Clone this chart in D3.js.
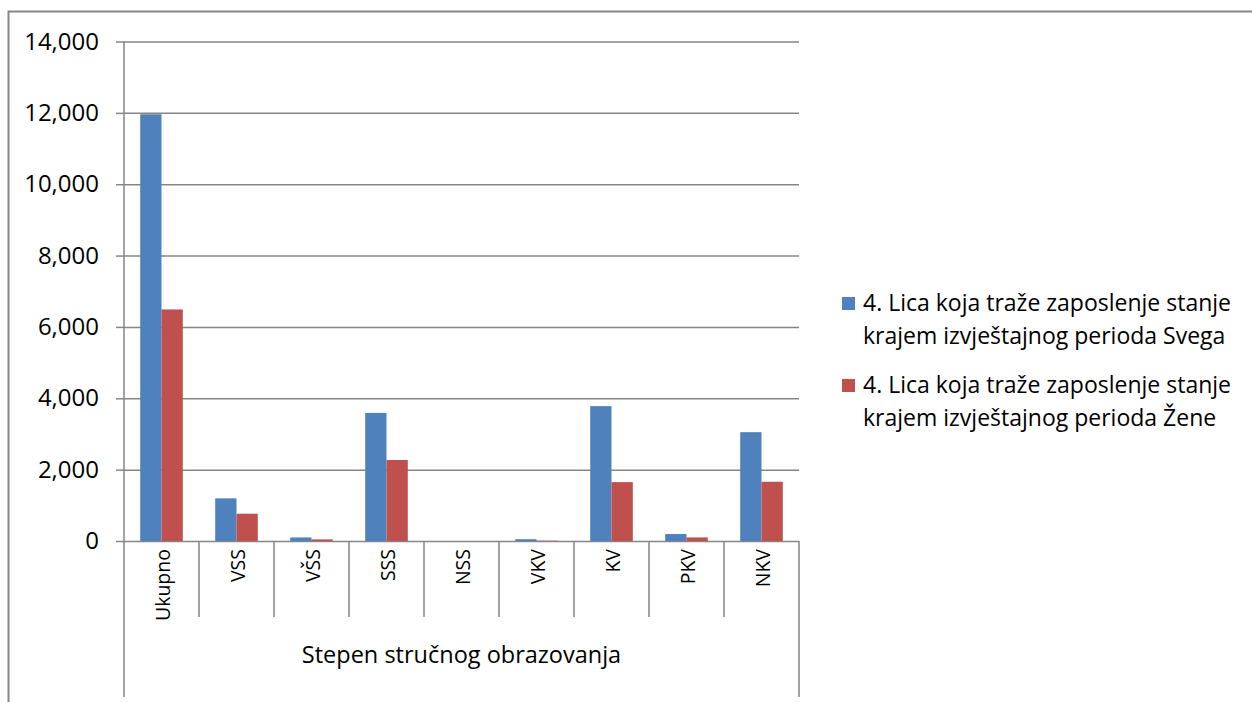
<!DOCTYPE html>
<html>
<head>
<meta charset="utf-8">
<script src="https://cdn.jsdelivr.net/npm/d3@7"></script>
<style>
  html, body { margin: 0; padding: 0; background: #fff; }
  svg { display: block; }
  text { font-family: "Open Sans", "Noto Sans", sans-serif; fill: #000; }
</style>
</head>
<body>
<svg id="chart" width="1252" height="702"></svg>
<script>
// ---- data ----
const categories = ["Ukupno", "VSS", "VŠS", "SSS", "NSS", "VKV", "KV", "PKV", "NKV"];
const svegaValues = [11960, 1195, 100, 3590, 0, 50, 3780, 195, 3050];
const zeneValues  = [6490, 765, 45, 2270, 0, 10, 1650, 100, 1660];
const seriesNames = [
  ["4. Lica koja traže zaposlenje stanje", "krajem izvještajnog perioda Svega"],
  ["4. Lica koja traže zaposlenje stanje", "krajem izvještajnog perioda Žene"]
];
const yTicks = [0, 2000, 4000, 6000, 8000, 10000, 12000, 14000];
const groupLabel = "Stepen stručnog obrazovanja";
const colors = ["#4F81BD", "#C0504D"];

// ---- layout ----
const svg = d3.select("#chart");
const plot = { left: 124, right: 799, top: 41.5, bottom: 541 };
const gridColor = "#868686";

// outer border (extends beyond the viewport on right/bottom)
svg.append("rect")
  .attr("x", 8.5).attr("y", 11.5)
  .attr("width", 1400).attr("height", 900)
  .attr("fill", "none").attr("stroke", gridColor).attr("stroke-width", 2);

const x = d3.scaleBand().domain(categories).range([plot.left, plot.right]).paddingInner(0).paddingOuter(0);
const barW = x.bandwidth() * 0.284;
const xs = d3.scaleBand().domain([0, 1]).range([0, barW * 2]);
const y = d3.scaleLinear().domain([0, 14000]).range([plot.bottom, plot.top]);

// gridlines + y ticks
const yAxis = d3.axisLeft(y).tickValues(yTicks).tickSize(8).tickFormat(d3.format(","));
const gy = svg.append("g").attr("transform", `translate(${plot.left},0)`).call(yAxis);
gy.select(".domain").remove();
gy.selectAll(".tick line").attr("stroke", gridColor).attr("stroke-width", 1.5);
gy.selectAll(".tick text").attr("x", -25).attr("font-size", 24).attr("font-family", "Open Sans");
gy.selectAll(".tick").append("line")
  .attr("x1", 0).attr("x2", plot.right - plot.left)
  .attr("stroke", gridColor).attr("stroke-width", 1.5);

// bars
const seriesData = [svegaValues, zeneValues];
seriesData.forEach((vals, si) => {
  svg.append("g").selectAll("rect")
    .data(categories.map((c, i) => ({ c, v: vals[i] })))
    .join("rect")
    .attr("x", d => x(d.c) + (x.bandwidth() - barW * 2) / 2 + xs(si))
    .attr("width", xs.bandwidth())
    .attr("y", d => y(d.v))
    .attr("height", d => y(0) - y(d.v))
    .attr("fill", colors[si]);
});

// axes lines
svg.append("line")
  .attr("x1", plot.left).attr("x2", plot.left)
  .attr("y1", plot.top).attr("y2", 697)
  .attr("stroke", gridColor).attr("stroke-width", 1.5);
svg.append("line")
  .attr("x1", plot.right).attr("x2", plot.right)
  .attr("y1", plot.bottom).attr("y2", 697)
  .attr("stroke", gridColor).attr("stroke-width", 1.5);
// category dividers
const bounds = categories.slice(1).map(c => x(c));
svg.append("g").selectAll("line").data(bounds).join("line")
  .attr("x1", d => d).attr("x2", d => d)
  .attr("y1", plot.bottom).attr("y2", 617)
  .attr("stroke", gridColor).attr("stroke-width", 1.5);

// category labels (rotated)
svg.append("g").selectAll("text").data(categories).join("text")
  .attr("transform", d => `translate(${x(d) + x.bandwidth() / 2 + 1},549) rotate(-90)`)
  .attr("text-anchor", "end")
  .attr("dy", "0.36em")
  .attr("font-size", 19.5)
  .text(d => d);

// group label
svg.append("text")
  .attr("x", (plot.left + plot.right) / 2)
  .attr("y", 655)
  .attr("dy", "0.36em")
  .attr("text-anchor", "middle")
  .attr("font-size", 23.5)
  .text(groupLabel);

// legend
const legendY = [303, 385];
const lg = svg.append("g");
seriesNames.forEach((lines, i) => {
  lg.append("rect")
    .attr("x", 842).attr("y", legendY[i] - 6)
    .attr("width", 13).attr("height", 13)
    .attr("fill", colors[i]);
  lines.forEach((t, j) => {
    lg.append("text")
      .attr("x", 863).attr("y", legendY[i] + j * 33)
      .attr("dy", "0.36em")
      .attr("font-size", 23)
      .text(t);
  });
});
</script>
</body>
</html>
